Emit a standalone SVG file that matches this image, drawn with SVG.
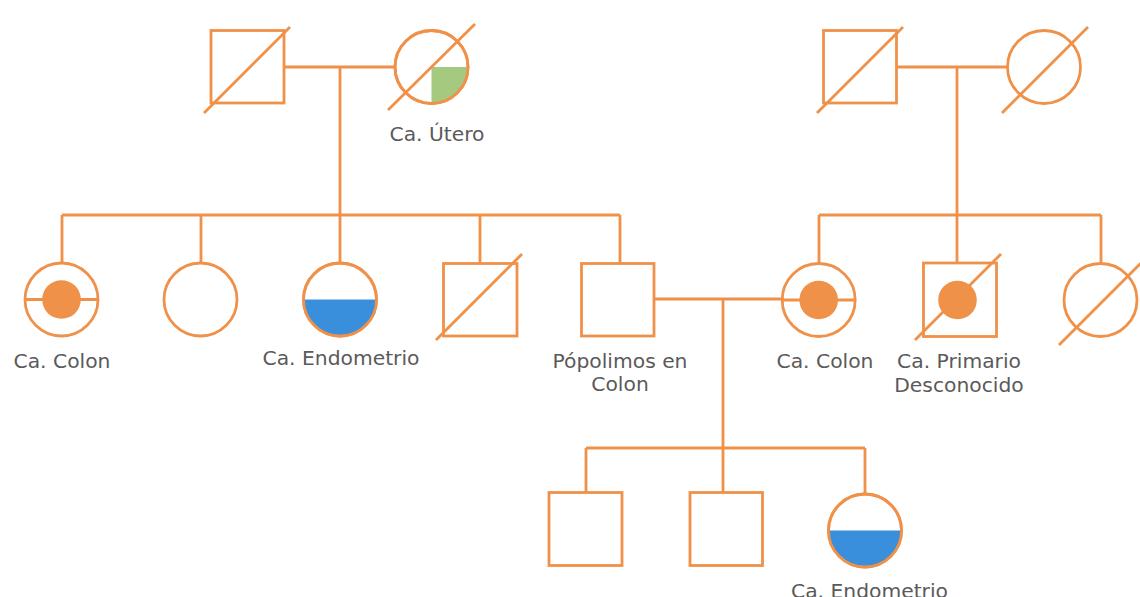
<svg xmlns="http://www.w3.org/2000/svg" width="1140" height="597" viewBox="0 0 1140 597">
<style>
.s{fill:none;stroke:#f0914a;stroke-width:2.8}
.n{fill:#fff;stroke:#f0914a;stroke-width:2.8}
.dot{fill:#f0914a}
.blue{fill:#3a8fdd}
.green{fill:#a5c97f}
.t{font-family:"DejaVu Sans","Open Sans",sans-serif;font-size:20.3px;fill:#5a5a5a;text-anchor:middle}
</style>
<rect width="1140" height="597" fill="#fff"/>
<g id="connectors" class="s">
<path d="M284 67H395M340 67V215M62 215H620M62 215V263M201 215V262M340 215V263M480 215V263M620 215V263"/>
<path d="M897 67H1008M957 67V215M819 215H1101M819 215V263M957 215V263M1101 215V263"/>
<path d="M654 299H782M723 299V492M586 448H865M586 448V493M865 448V494"/>
</g>
<g id="gf1"><rect class="n" x="211" y="30.5" width="73" height="72.5"/><line class="s" x1="204" y1="113" x2="290" y2="27"/></g>
<g id="gm1"><circle class="n" cx="431.5" cy="67" r="36.5"/><path class="green" d="M431.5 67H468A36.5 36.5 0 0 1 431.5 103.5Z"/><circle class="s" cx="431.5" cy="67" r="36.5"/><line class="s" x1="388" y1="110" x2="475" y2="24"/><text class="t" x="437" y="141">Ca. Útero</text></g>
<g id="gf2"><rect class="n" x="823.5" y="30.5" width="73" height="72.5"/><line class="s" x1="817" y1="113" x2="903" y2="27"/></g>
<g id="gm2"><circle class="n" cx="1044" cy="67" r="36.5"/><line class="s" x1="1002" y1="113" x2="1088" y2="27"/></g>
<g id="c1"><circle class="n" cx="61.5" cy="299.5" r="36.5"/><line class="s" x1="25" y1="299.5" x2="98" y2="299.5"/><circle class="dot" cx="61.5" cy="299.5" r="19.3"/><text class="t" x="62" y="368">Ca. Colon</text></g>
<g id="c2"><circle class="n" cx="200.5" cy="299.5" r="36.5"/></g>
<g id="c3"><circle class="n" cx="340" cy="299.5" r="36.5"/><path class="blue" d="M303.5 299.5H376.5A36.5 36.5 0 0 1 303.5 299.5Z"/><circle class="s" cx="340" cy="299.5" r="36.5"/><text class="t" x="341" y="364.5">Ca. Endometrio</text></g>
<g id="c4"><rect class="n" x="443.5" y="263.5" width="73.5" height="72.5"/><line class="s" x1="436" y1="340" x2="522" y2="254"/></g>
<g id="c5"><rect class="n" x="581.5" y="263.5" width="72.5" height="72.5"/><text class="t" x="620" y="368">Pópolimos en</text><text class="t" x="620" y="391">Colon</text></g>
<g id="c6"><circle class="n" cx="818.7" cy="300" r="36.5"/><line class="s" x1="782" y1="300" x2="855" y2="300"/><circle class="dot" cx="818.7" cy="300" r="19.3"/><text class="t" x="825" y="368">Ca. Colon</text></g>
<g id="c7"><rect class="n" x="923.5" y="263" width="73" height="73.5"/><circle class="dot" cx="957.5" cy="300" r="19.3"/><line class="s" x1="915" y1="340" x2="1001" y2="254"/><text class="t" x="959" y="368">Ca. Primario</text><text class="t" x="959" y="392">Desconocido</text></g>
<g id="c8"><circle class="n" cx="1100.5" cy="300" r="36.5"/><line class="s" x1="1059" y1="345" x2="1141" y2="263"/></g>
<g id="g1"><rect class="n" x="549" y="492.5" width="73" height="73"/></g>
<g id="g2"><rect class="n" x="690" y="492.5" width="72.5" height="73"/></g>
<g id="g3"><circle class="n" cx="865" cy="530.5" r="36.5"/><path class="blue" d="M828.5 530.5H901.5A36.5 36.5 0 0 1 828.5 530.5Z"/><circle class="s" cx="865" cy="530.5" r="36.5"/><text class="t" x="869.5" y="598">Ca. Endometrio</text></g>
</svg>
